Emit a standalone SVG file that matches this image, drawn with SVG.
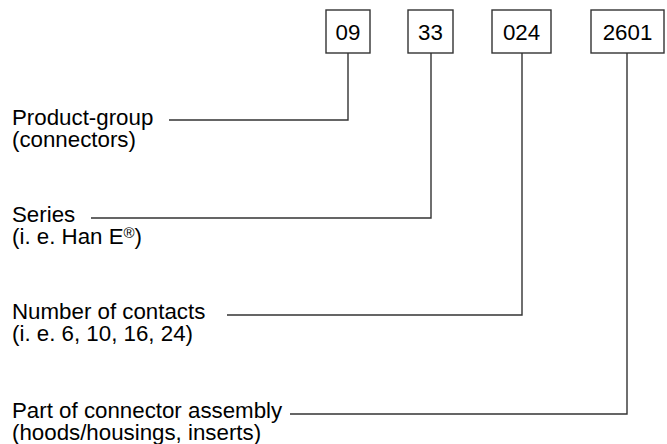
<svg xmlns="http://www.w3.org/2000/svg" width="667" height="444" viewBox="0 0 667 444">
<style>
text{font-family:"Liberation Sans",Arial,sans-serif;font-size:22.3px;fill:#000}
.box{fill:#fff;stroke:#333;stroke-width:1.4}
.c{text-anchor:middle}
.ln{fill:none;stroke:#333;stroke-width:1.4}
</style>
<rect width="667" height="444" fill="#fff"/>
<g id="box-09"><rect class="box" x="326" y="10" width="44" height="43"/><text class="c" x="348" y="40">09</text></g>
<g id="box-33"><rect class="box" x="408" y="10" width="45" height="43"/><text class="c" x="430.5" y="40">33</text></g>
<g id="box-024"><rect class="box" x="492" y="10" width="59" height="43"/><text class="c" x="521.5" y="40">024</text></g>
<g id="box-2601"><rect class="box" x="591" y="10" width="73" height="43"/><text class="c" x="627.5" y="40">2601</text></g>
<g id="label-product"><text x="12" y="125">Product-group</text><text x="12" y="147">(connectors)</text></g>
<g id="label-series"><text x="12" y="222">Series</text><text x="12" y="244">(i. e. Han E<tspan font-size="15" dy="-6">®</tspan><tspan dy="6">)</tspan></text></g>
<g id="label-contacts"><text x="12" y="319">Number of contacts</text><text x="12" y="341">(i. e. 6, 10, 16, 24)</text></g>
<g id="label-part"><text x="12" y="418">Part of connector assembly</text><text x="12" y="439.5">(hoods/housings, inserts)</text></g>
<g id="connectors">
<polyline class="ln" points="169,120 348,120 348,53"/>
<polyline class="ln" points="91,218 431,218 431,53"/>
<polyline class="ln" points="227,315 522,315 522,53"/>
<polyline class="ln" points="290,414 627,414 627,53"/>
</g>
</svg>
